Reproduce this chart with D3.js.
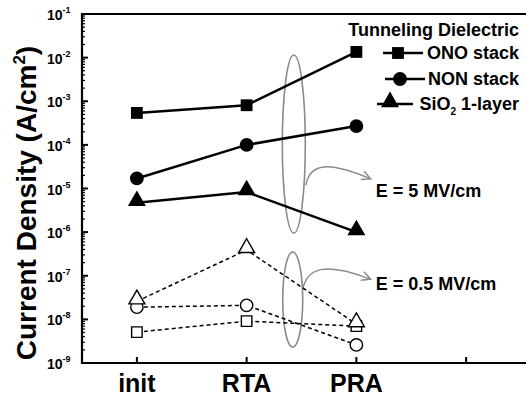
<!DOCTYPE html>
<html>
<head>
<meta charset="utf-8">
<script src="https://cdn.jsdelivr.net/npm/d3@7"></script>
<style>
  body { margin: 0; background: #fff; }
  text { font-family: "Liberation Sans", Arial, sans-serif; font-weight: bold; fill: #000; }
</style>
</head>
<body>
<div id="chart"></div>
<script>
// data
var categories = ["init", "RTA", "PRA"];
var onoHigh = [5.4e-4, 8.1e-4, 1.35e-2];   // E = 5 MV/cm
var nonHigh = [1.7e-5, 1.0e-4, 2.7e-4];
var sioHigh = [4.7e-6, 8.3e-6, 1.0e-6];
var onoLow = [5.1e-9, 9.1e-9, 7.0e-9];     // E = 0.5 MV/cm
var nonLow = [1.9e-8, 2.1e-8, 2.6e-9];
var sioLow = [2.6e-8, 3.9e-7, 7.8e-9];
var yTicks = [-9, -8, -7, -6, -5, -4, -3, -2, -1];
var legendNames = ["ONO stack", "NON stack", "SiO2 1-layer"];

var W = 526, H = 401;
var margin = {top: 14, left: 82, bottom: 38};

var svg = d3.select("#chart").append("svg")
    .attr("width", W).attr("height", H);

var x = d3.scaleLinear().domain([0.5, 4.5]).range([margin.left, 521]);
var y = d3.scaleLog().domain([1e-9, 1e-1]).range([H - margin.bottom, margin.top]);

// frame (left, top, bottom)
svg.append("path")
    .attr("d", "M" + W + "," + y(1e-1) + "H" + x(0.5) + "V" + y(1e-9) + "H" + W)
    .attr("fill", "none").attr("stroke", "#000").attr("stroke-width", 2.2);

// y ticks: major + minor, inward
var minor = [];
yTicks.forEach(function(e) {
  if (e < -1) for (var k = 2; k < 10; k++) minor.push(k * Math.pow(10, e));
});
svg.append("g").selectAll("line.minor").data(minor).enter().append("line")
    .attr("x1", x(0.5)).attr("x2", x(0.5) + 3)
    .attr("y1", function(d) { return y(d); }).attr("y2", function(d) { return y(d); })
    .attr("stroke", "#000").attr("stroke-width", 1.2);
svg.append("g").selectAll("line.major").data(yTicks).enter().append("line")
    .attr("x1", x(0.5)).attr("x2", x(0.5) + 6)
    .attr("y1", function(d) { return y(Math.pow(10, d)); })
    .attr("y2", function(d) { return y(Math.pow(10, d)); })
    .attr("stroke", "#000").attr("stroke-width", 2);

var tl = svg.append("g").selectAll("text").data(yTicks).enter().append("text")
    .attr("x", 47).attr("y", function(d) { return y(Math.pow(10, d)) + 6; })
    .style("font-size", "14px");
tl.append("tspan").text("10");
tl.append("tspan").attr("dy", -7).style("font-size", "9px").text(function(d) { return "-" + (-d); });

// x ticks inward
svg.append("g").selectAll("line").data([1, 2, 3, 4]).enter().append("line")
    .attr("x1", function(d) { return x(d); }).attr("x2", function(d) { return x(d); })
    .attr("y1", y(1e-9)).attr("y2", y(1e-9) - 6)
    .attr("stroke", "#000").attr("stroke-width", 2);

svg.append("g").selectAll("text").data(categories).enter().append("text")
    .attr("x", function(d, i) { return x(i + 1); }).attr("y", 392)
    .attr("text-anchor", "middle").style("font-size", "25px")
    .text(function(d) { return d; });

// y axis title
var yt = svg.append("text")
    .attr("transform", "translate(36," + 203 + ") rotate(-90)")
    .attr("text-anchor", "middle").style("font-size", "28px");
yt.append("tspan").text("Current Density (A/cm");
yt.append("tspan").attr("dy", -11).style("font-size", "17px").text("2");
yt.append("tspan").attr("dy", 11).text(")");

// ellipses and curved arrows
var grey = "#8a8a8a";
svg.append("defs").append("marker")
    .attr("id", "arr").attr("viewBox", "0 0 10 10").attr("refX", 9).attr("refY", 5)
    .attr("markerWidth", 8).attr("markerHeight", 8).attr("orient", "auto")
  .append("path").attr("d", "M1,1 L9,5 L1,9").attr("fill", "none")
    .attr("stroke", grey).attr("stroke-width", 1.3);

var ell = [
  {cx: 2.43, top: 1.15e-2, bot: 9.5e-7, rx: 11.5},
  {cx: 2.42, top: 3.5e-7, bot: 2.3e-9, rx: 10}
];
svg.append("g").selectAll("ellipse").data(ell).enter().append("ellipse")
    .attr("cx", function(d) { return x(d.cx); })
    .attr("cy", function(d) { return (y(d.top) + y(d.bot)) / 2; })
    .attr("rx", function(d) { return d.rx; })
    .attr("ry", function(d) { return (y(d.bot) - y(d.top)) / 2; })
    .attr("fill", "none").attr("stroke", grey).attr("stroke-width", 1.6);

var arrows = [
  {x0: 2.54, y0: 1.2e-5, x1: 3.13, y1: 1.66e-5, label: "E = 5 MV/cm", ly: 6.5e-6},
  {x0: 2.51, y0: 4.7e-8, x1: 3.13, y1: 8.3e-8, label: "E = 0.5 MV/cm", ly: 4.7e-8}
];
arrows.forEach(function(a) {
  var p0 = [x(a.x0), y(a.y0)], p1 = [x(a.x1), y(a.y1)];
  var p = d3.path();
  p.moveTo(p0[0], p0[1]);
  p.bezierCurveTo(p0[0] + 4, p0[1] - 22, p0[0] + 22, p1[1] - 18, p1[0], p1[1]);
  svg.append("path").attr("d", p.toString())
      .attr("fill", "none").attr("stroke", grey).attr("stroke-width", 1.4)
      .attr("marker-end", "url(#arr)");
  svg.append("text").attr("x", p1[0] + 5).attr("y", y(a.ly))
      .style("font-size", "18px").text(a.label);
});

// symbols
function marker(g, shape, size, filled) {
  var sym = {square: d3.symbolSquare, circle: d3.symbolCircle, triangle: d3.symbolTriangle}[shape];
  return g.append("path")
      .attr("d", d3.symbol().type(sym).size(size)())
      .attr("fill", filled ? "#000" : "#fff")
      .attr("stroke", "#000").attr("stroke-width", filled ? 0 : 1.4);
}

var series = [
  {v: onoLow, shape: "square", size: 110, filled: false},
  {v: nonLow, shape: "circle", size: 120, filled: false},
  {v: sioLow, shape: "triangle", size: 110, filled: false},
  {v: onoHigh, shape: "square", size: 140, filled: true},
  {v: nonHigh, shape: "circle", size: 150, filled: true},
  {v: sioHigh, shape: "triangle", size: 140, filled: true}
];

var line = d3.line()
    .x(function(d, i) { return x(i + 1); })
    .y(function(d) { return y(d); });

series.forEach(function(s) {
  svg.append("path").attr("d", line(s.v))
      .attr("fill", "none").attr("stroke", "#000")
      .attr("stroke-width", s.filled ? 2.5 : 1.5)
      .attr("stroke-dasharray", s.filled ? null : "4,3");
});
series.forEach(function(s) {
  s.v.forEach(function(d, i) {
    var dy = s.shape === "triangle" ? -2 : 0;
    marker(svg, s.shape, s.size, s.filled)
        .attr("transform", "translate(" + x(i + 1) + "," + (y(d) + dy) + ")");
  });
});

// legend
var lg = svg.append("g");
lg.append("text").attr("x", 519).attr("y", 36).attr("text-anchor", "end")
    .style("font-size", "18px").text("Tunneling Dielectric");
var legendRows = [
  {name: legendNames[0], shape: "square", y: 53, x0: 383, x1: 423, mx: 398},
  {name: legendNames[1], shape: "circle", y: 79, x0: 385, x1: 425, mx: 400},
  {name: legendNames[2], shape: "triangle", y: 104, x0: 377, x1: 413, mx: 390}
];
legendRows.forEach(function(r, i) {
  lg.append("line").attr("x1", r.x0).attr("x2", r.x1).attr("y1", r.y).attr("y2", r.y)
      .attr("stroke", "#000").attr("stroke-width", 2.4);
  marker(lg, r.shape, series[i + 3].size, true)
      .attr("transform", "translate(" + r.mx + "," + (r.y - (r.shape === "triangle" ? 2 : 0)) + ")");
  var t = lg.append("text").attr("x", 519).attr("y", r.y + 6).attr("text-anchor", "end")
      .style("font-size", "18px");
  if (i === 2) {
    t.append("tspan").text("SiO");
    t.append("tspan").attr("dy", 5).style("font-size", "10px").text("2");
    t.append("tspan").attr("dy", -5).text(" 1-layer");
  } else {
    t.text(r.name);
  }
});
</script>
</body>
</html>
